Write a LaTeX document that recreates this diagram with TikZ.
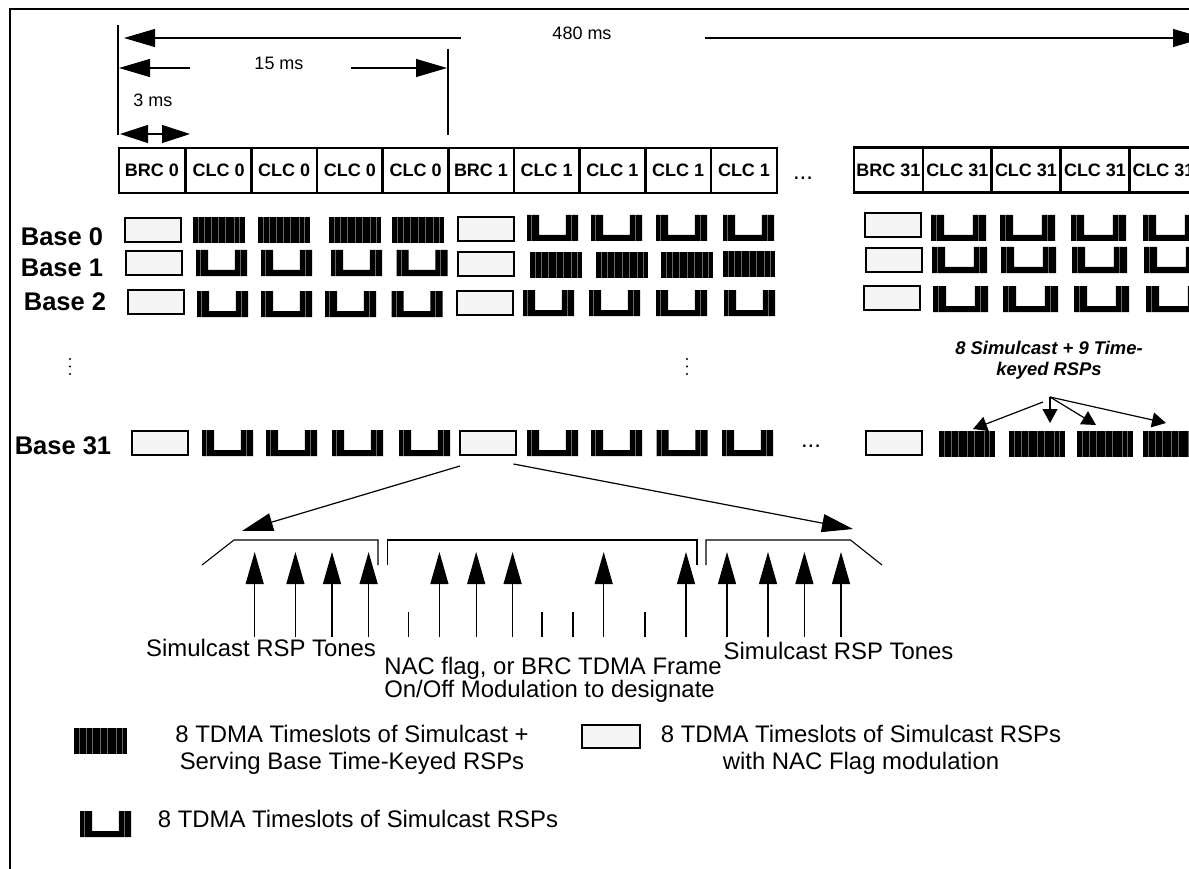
\documentclass[tikz,border=0pt]{standalone}
\usepackage{fontspec}
\setmainfont{Liberation Sans}
\usetikzlibrary{arrows.meta}

\tikzset{
  celltxt/.style={font=\fontsize{18}{20}\selectfont\bfseries},
  cellbox/.style={draw, celltxt, line width=2.6pt, minimum width=#1, minimum height=45pt, inner sep=0pt, outer sep=0pt},
  nacbox/.style={draw, line width=1.3pt, fill=black!4, minimum width=56pt, minimum height=24pt, inner sep=0pt},
  basetxt/.style={font=\fontsize{25.5}{28}\selectfont\bfseries, inner sep=0pt},
  timetxt/.style={font=\fontsize{18}{20}\selectfont, inner sep=0pt},
  dotstxt/.style={font=\fontsize{24}{26}\selectfont, inner sep=0pt},
  notetxt/.style={font=\fontsize{23.9}{23}\selectfont, inner sep=0pt, align=center},
  slotline/.style={draw=black!60, line width=0.3pt},
  bigarrow/.style={line width=1.1pt, -{Triangle[length=31pt, width=18pt]}},
  twoarrow/.style={line width=1.1pt, {Triangle[length=28pt, width=18pt]}-{Triangle[length=28pt, width=18pt]}},
  tonearrow/.style={line width=1.1pt, -{Triangle[length=32pt, width=18pt]}},
  keyarrow/.style={line width=1.2pt, -{Triangle[length=14pt, width=15pt]}},
  rule/.style={line width=1.1pt},
}

% #1 left, #2 top, #3 width
\newcommand{\fullslots}[3]{
  \fill ({#1},{#2}) rectangle ++({#3},26);
  \foreach \s in {.1,.22,.35,.5,.63,.8,.9}
    \draw[slotline] ({#1+\s*#3},{#2}) -- ++(0,26);
}
\newcommand{\simslots}[3]{
  \fill ({#1},{#2}) -- ++({.24*#3},0) -- ++(0,20) -- ({#1+.76*#3},{#2+20}) -- ({#1+.76*#3},{#2})
    -- ({#1+#3},{#2}) -- ++(0,26) -- ({#1},{#2+26}) -- cycle;
  \foreach \s in {.09,.86}
    \draw[slotline] ({#1+\s*#3},{#2}) -- ++(0,26);
}

\begin{document}
\begin{tikzpicture}[x=1pt, y=-1pt]
\useasboundingbox (0,0) rectangle (1189,869);

% outer frame
\draw[line width=1.4pt] (1195,9) -- (10,9) -- (10,875);

% time marks
\coordinate (T0a) at (118,25);
\coordinate (T0b) at (118,135);
\coordinate (T15a) at (448,49);
\coordinate (T15b) at (448,135);
\draw[rule] (T0a) -- (T0b);
\draw[rule] (T15a) -- (T15b);

\node[timetxt] (t480) at (582,33) {480 ms};
\node[timetxt] (t15) at (279,63) {15 ms};
\node[timetxt] (t3) at (153,100) {3 ms};

\coordinate (A480l) at (461,38);
\coordinate (A480lt) at (124,38);
\coordinate (A480r) at (705,38);
\coordinate (A480rt) at (1204,38);
\coordinate (A15l) at (190,68);
\coordinate (A15lt) at (119,68);
\coordinate (A15r) at (351,68);
\coordinate (A15rt) at (447,68);
\coordinate (A3l) at (120,134);
\coordinate (A3r) at (190,134);
\draw[bigarrow] (A480l) -- (A480lt);
\draw[bigarrow] (A480r) -- (A480rt);
\draw[bigarrow] (A15l) -- (A15lt);
\draw[bigarrow] (A15r) -- (A15rt);
\draw[twoarrow] (A3l) -- (A3r);

% frame cells
\foreach \x/\n/\t in {152/brca/BRC 0, 218.6/clca/CLC 0, 284.2/clcb/CLC 0, 349.8/clcc/CLC 0, 415.6/clcd/CLC 0,
    481/brcb/BRC 1, 546.7/clce/CLC 1, 612.4/clcf/CLC 1, 678.2/clcg/CLC 1, 744/clch/CLC 1}
  \node[cellbox=65.8pt] (\n) at (\x,170.5) {\t};
\foreach \x/\n/\t in {888.5/brcc/BRC 31, 957.3/clci/CLC 31, 1026/clcj/CLC 31, 1095/clck/CLC 31, 1163.5/clcl/CLC 31}
  \node[cellbox=68.8pt] (\n) at (\x,170) {\t};

\node[dotstxt] (dotsa) at (803,178) {...};
\node[dotstxt] (dotsb) at (811,446) {...};

% base labels
\node[basetxt] (basea) at (62,237) {Base 0};
\node[basetxt] (baseb) at (62,268) {Base 1};
\node[basetxt] (basec) at (65,302) {Base 2};
\node[basetxt] (based) at (63,446) {Base 31};

% skipped bases
\foreach \x in {70,687}
  \foreach \y in {359,366.5,374}
    \fill (\x,\y) circle (1.1);

% NAC flag slots
\foreach \x/\y/\n in {153/230/naca, 486/229/nacb, 893/225/nacc,
    154/263/nacd, 486/264/nace, 894/260/nacf,
    156/302/nacg, 485/303/nach, 892/298/naci,
    160/443/nacj, 488/443/nack, 894/443/nacl}
  \node[nacbox] (\n) at (\x,\y) {};

% slots of simulcast + time keyed
\foreach \x in {192.5,257.6,329,392}
  \fullslots{\x}{217}{52};
\foreach \x/\y in {530/252,596/252,661/252,723/251}
  \fullslots{\x}{\y}{52};
\foreach \x in {939,1009,1077,1143}
  \fullslots{\x}{431}{56};

% slots of simulcast only
\foreach \x in {527,591,656,723}
  \simslots{\x}{215}{51};
\foreach \x in {196,261,331,396.5}
  \simslots{\x}{250}{51};
\foreach \x in {197,261,325,391.5}
  \simslots{\x}{291}{51};
\foreach \x in {523,589,656,724}
  \simslots{\x}{290}{51};
\foreach \x in {931,1000,1071,1143}
  \simslots{\x}{215}{55};
\foreach \x in {932,1001,1072,1144}
  \simslots{\x}{247}{55};
\foreach \x in {933,1003,1074,1146}
  \simslots{\x}{286}{55};
\foreach \x in {202,266,332,399,527,591,656.5,722}
  \simslots{\x}{430}{51};

% time keyed note
\node[inner sep=0pt, align=center, font=\fontsize{18.4}{21}\selectfont\bfseries\itshape] (keynote) at (1049,360) {8 Simulcast + 9 Time-\\keyed RSPs};
\coordinate (KeyL) at (1043,402);
\coordinate (KeyLt) at (973,429);
\coordinate (KeyM) at (1050,397);
\coordinate (KeyMt) at (1050,423);
\coordinate (KeyAt) at (1096,425);
\coordinate (KeyRt) at (1166,423);
\draw[keyarrow] (KeyL) -- (KeyLt);
\draw[keyarrow] (KeyM) -- (KeyMt);
\draw[keyarrow] (KeyM) -- (KeyAt);
\draw[keyarrow] (KeyM) -- (KeyRt);

% spread of the slot
\coordinate (SpreadL) at (460,466);
\coordinate (SpreadLt) at (242,531);
\coordinate (SpreadR) at (513.5,464);
\coordinate (SpreadRt) at (853,529);
\draw[keyarrow, -{Triangle[length=31pt, width=18pt]}] (SpreadL) -- (SpreadLt);
\draw[keyarrow, -{Triangle[length=31pt, width=18pt]}] (SpreadR) -- (SpreadRt);

\draw[rule] (202,565) -- (234,540) -- (378,540) -- (378,565);
\draw[rule] (387.5,565) -- (387.5,540) -- (697,540) -- (697,565);
\draw[rule] (706,565) -- (706,540) -- (850.5,540) -- (882,565);

\foreach \x in {254.7,295.4,332,368.6,439.4,476.2,512.6,603.7,686,727,768,804.4,841}
  \draw[tonearrow] (\x,637) -- (\x,552);
\foreach \x in {408.4,542,573,645}
  \draw[line width=1.1pt] (\x,612) -- (\x,637);

\node[notetxt] (tonesl) at (261,648) {Simulcast RSP Tones};
\node[notetxt] (tonesr) at (838.5,651) {Simulcast RSP Tones};
\node[notetxt, align=left] (nacnote) at (553,680) {NAC flag, or BRC TDMA Frame\\On/Off Modulation to designate};

% legend
\fullslots{74}{728}{53}
\simslots{80}{811}{51}
\node[nacbox, minimum width=58pt, minimum height=23pt] (keybox) at (611,736.5) {};
\node[notetxt] (keya) at (352,750) {8 TDMA Timeslots of Simulcast +\\[4pt]Serving Base Time-Keyed RSPs};
\node[notetxt] (keyb) at (861,750) {8 TDMA Timeslots of Simulcast RSPs\\[4pt]with NAC Flag modulation};
\node[notetxt] (keyc) at (358,819) {8 TDMA Timeslots of Simulcast RSPs};
\end{tikzpicture}
\end{document}
